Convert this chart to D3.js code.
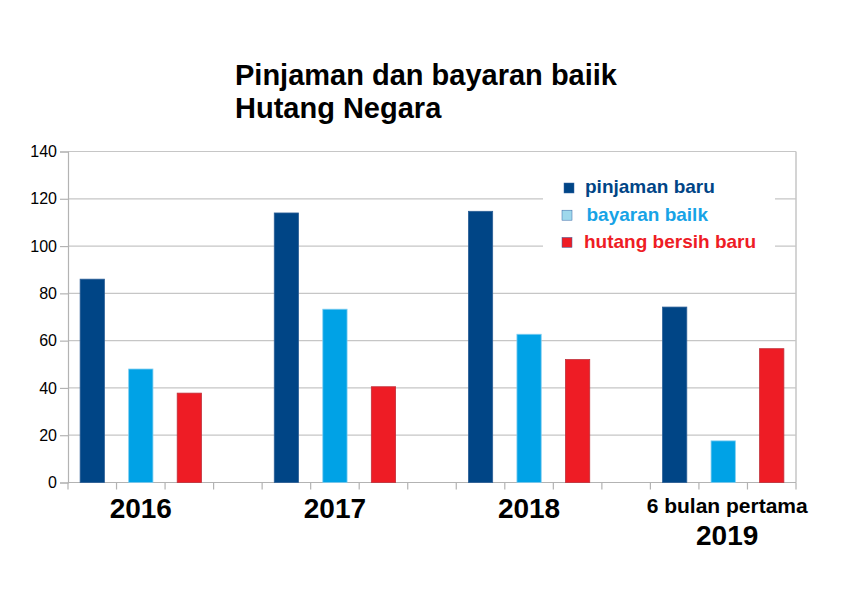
<!DOCTYPE html>
<html>
<head>
<meta charset="utf-8">
<script src="https://cdn.jsdelivr.net/npm/d3@7/dist/d3.min.js"></script>
<style>
  html, body { margin: 0; padding: 0; background: #fff; }
  svg { display: block; font-family: "Liberation Sans", Arial, sans-serif; }
</style>
</head>
<body>
<svg id="chart" width="845" height="613"></svg>
<script>
// ---- data ----
const titleLines = ["Pinjaman dan bayaran baiik", "Hutang Negara"];
const groups = ["2016", "2017", "2018", "2019"];
const groupSubLabels = ["", "", "", "6 bulan pertama"];
const seriesNames = ["pinjaman baru", "bayaran bailk", "hutang bersih baru"];
const pinjamanBaru = [86, 114, 114.7, 74.2];
const bayaranBalik = [48, 73.3, 62.7, 17.6];
const hutangBersih = [37.8, 40.5, 52, 56.6];
const yTicks = [0, 20, 40, 60, 80, 100, 120, 140];

// ---- styles ----
const barColors = ["#004586", "#00a2e6", "#ee1c25"];
const barStrokes = ["#2c5f96", "#7fcdf0", "#c0303a"];
const legendSwatch = ["#004586", "#9ed8ec", "#ee1c25"];
const legendText = ["#004586", "#17a3e6", "#ee1c25"];

const svg = d3.select("#chart");
const plot = { left: 68, right: 796, top: 151.5, bottom: 482.5 };

const seriesValues = [pinjamanBaru, bayaranBalik, hutangBersih];

// slots: each group has 3 bars, followed by a gap slot (except last)
const slots = [];
groups.forEach((g, gi) => {
  seriesNames.forEach((s, si) => slots.push(g + "|" + si));
  if (gi < groups.length - 1) slots.push(g + "|gap");
});

const x = d3.scaleBand().domain(slots).range([plot.left, plot.right])
  .paddingInner(0.5).paddingOuter(0.25);
const y = d3.scaleLinear().domain([0, 140]).range([plot.bottom, plot.top]);

// gridlines
svg.append("g").selectAll("line").data(yTicks).join("line")
  .attr("x1", plot.left).attr("x2", plot.right)
  .attr("y1", d => y(d)).attr("y2", d => y(d))
  .attr("stroke", "#c6c6c6").attr("stroke-width", 1.2);

// right border
svg.append("line")
  .attr("x1", plot.right).attr("x2", plot.right)
  .attr("y1", y(140)).attr("y2", y(0))
  .attr("stroke", "#c6c6c6").attr("stroke-width", 1.5);

// y axis
const yAxis = d3.axisLeft(y).tickValues(yTicks).tickSize(8).tickPadding(3);
const yg = svg.append("g").attr("transform", `translate(${plot.left},0)`).call(yAxis);
yg.select(".domain").attr("stroke", "#b3b3b3").attr("stroke-width", 1.2);
yg.selectAll(".tick line").attr("stroke", "#b3b3b3").attr("stroke-width", 1.2);
yg.selectAll(".tick text").attr("font-size", 16).attr("fill", "#000")
  .attr("font-family", "Liberation Sans, Arial, sans-serif");

// x axis line + boundary ticks
const half = (x.step() - x.bandwidth()) / 2;
const bounds = slots.map(s => x(s) - half).concat([x(slots[slots.length - 1]) + x.bandwidth() + half]);
svg.append("line")
  .attr("x1", plot.left).attr("x2", plot.right)
  .attr("y1", y(0)).attr("y2", y(0))
  .attr("stroke", "#b3b3b3").attr("stroke-width", 1.2);
svg.append("g").selectAll("line").data(bounds).join("line")
  .attr("x1", d => d).attr("x2", d => d)
  .attr("y1", y(0)).attr("y2", y(0) + 7)
  .attr("stroke", "#b3b3b3").attr("stroke-width", 1.2);

// bars
const barData = [];
groups.forEach((g, gi) => {
  seriesValues.forEach((vals, si) => barData.push({ slot: g + "|" + si, si, v: vals[gi] }));
});
svg.append("g").selectAll("rect").data(barData).join("rect")
  .attr("x", d => x(d.slot))
  .attr("width", x.bandwidth())
  .attr("y", d => y(d.v))
  .attr("height", d => y(0) - y(d.v))
  .attr("fill", d => barColors[d.si])
  .attr("stroke", d => barStrokes[d.si])
  .attr("stroke-width", 0.8);

// group labels
groups.forEach((g, gi) => {
  const cx = (x(g + "|0") + x(g + "|2") + x.bandwidth()) / 2;
  if (groupSubLabels[gi]) {
    svg.append("text").attr("x", cx + 4).attr("y", 513)
      .attr("text-anchor", "middle").attr("font-size", 21).attr("font-weight", "bold")
      .text(groupSubLabels[gi]);
    svg.append("text").attr("x", cx + 4).attr("y", 544.5)
      .attr("text-anchor", "middle").attr("font-size", 28).attr("font-weight", "bold")
      .text(g);
  } else {
    svg.append("text").attr("x", cx).attr("y", 518)
      .attr("text-anchor", "middle").attr("font-size", 28).attr("font-weight", "bold")
      .text(g);
  }
});

// legend
svg.append("rect").attr("x", 543).attr("y", 168).attr("width", 232).attr("height", 94)
  .attr("fill", "#fff");
const legY = [193.3, 220.5, 247.7];
const legSwX = [564, 562, 562];
const legTxX = [585, 586.5, 584];
seriesNames.forEach((s, i) => {
  svg.append("rect").attr("x", legSwX[i]).attr("y", legY[i] - 10.3).attr("width", 10).attr("height", 10)
    .attr("fill", legendSwatch[i]).attr("stroke", "#3465a4").attr("stroke-width", 0.5);
  svg.append("text").attr("x", legTxX[i]).attr("y", legY[i])
    .attr("font-size", 19).attr("font-weight", "bold").attr("fill", legendText[i])
    .text(s);
});

// title
titleLines.forEach((t, i) => {
  svg.append("text").attr("x", 235).attr("y", 85 + i * 33.3)
    .attr("font-size", 29).attr("font-weight", "bold").attr("fill", "#000")
    .text(t);
});
</script>
</body>
</html>
